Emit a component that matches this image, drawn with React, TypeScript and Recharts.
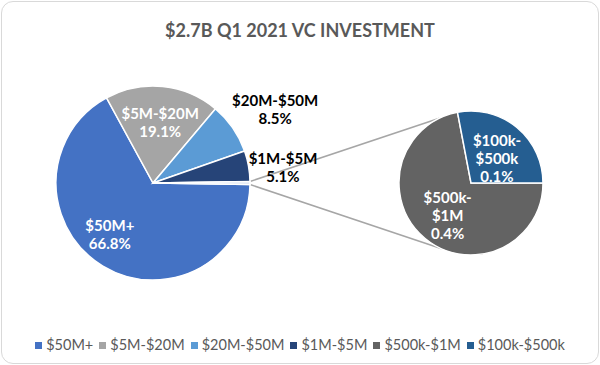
import React from 'react';
import { PieChart, Pie, Cell } from 'recharts';

const TITLE = '$2.7B Q1 2021 VC INVESTMENT';
const mainNames = ['$50M+', '$5M-$20M', '$20M-$50M', '$1M-$5M'];
const mainValues = [66.8, 19.1, 8.5, 5.1];
const mainColors = ['#4472C4', '#A5A5A5', '#5B9BD5', '#264478'];
const subNames = ['$500k-$1M', '$100k-$500k'];
const subValues = [0.36, 0.14];
const subColors = ['#636363', '#255E91'];
const OTHER_COLOR = '#DAE3F3';

const W = 600;
const H = 365;
const MAIN = { cx: 153, cy: 183, r: 97 };
const SUB = { cx: 471, cy: 183, r: 72 };
const FONT = 'Lato, "Open Sans", sans-serif';

const otherValue = subValues.reduce((a, b) => a + b, 0);
const mainData = [
  ...mainNames.map((name, i) => ({ name, value: mainValues[i], color: mainColors[i] })),
  { name: 'Other', value: otherValue, color: OTHER_COLOR },
];
const mainTotal = mainData.reduce((a, d) => a + d.value, 0);
const MAIN_START = -(otherValue / mainTotal) * 180;
const subData = subNames.map((name, i) => ({ name, value: subValues[i], color: subColors[i] }));
const SUB_START = -360 * (subValues[0] / otherValue);

// label placement: radius factor and angle shift from the slice mid angle
const mainLabelSpots = [
  { rf: 0.69, shift: -9, fill: '#FFFFFF' },
  { rf: 0.63, shift: -1, fill: '#FFFFFF' },
  { rf: 1.47, shift: -3.5, fill: '#000000' },
  { rf: 1.35, shift: -3.2, fill: '#000000' },
];
const subLabelSpots = [
  { rf: 0.55, shift: 3.5, fill: '#FFFFFF' },
  { rf: 0.5, shift: -6.5, fill: '#FFFFFF' },
];

const RAD = Math.PI / 180;
const LINE_H = 18;

function LabelText({ x, y, lines, fill }: { x: number; y: number; lines: string[]; fill: string }) {
  const top = y - ((lines.length - 1) * LINE_H) / 2;
  return (
    <text x={x} y={top} textAnchor="middle" dominantBaseline="central" fill={fill}
      fontFamily={FONT} fontWeight="bold" fontSize={15}>
      {lines.map((l, i) => (
        <tspan key={i} x={x} y={top + i * LINE_H}>{l}</tspan>
      ))}
    </text>
  );
}

const renderMainLabel = (props: any) => {
  const { cx, cy, midAngle, outerRadius, index } = props;
  const spot = mainLabelSpots[index];
  if (!spot) return null;
  const a = (midAngle + spot.shift) * RAD;
  const x = cx + outerRadius * spot.rf * Math.cos(a);
  const y = cy - outerRadius * spot.rf * Math.sin(a);
  const d = mainData[index];
  return <LabelText x={x} y={y} fill={spot.fill} lines={[d.name, d.value.toFixed(1) + '%']} />;
};

const renderSubLabel = (props: any) => {
  const { cx, cy, midAngle, outerRadius, index } = props;
  const spot = subLabelSpots[index];
  const a = (midAngle + spot.shift) * RAD;
  const x = cx + outerRadius * spot.rf * Math.cos(a);
  const y = cy - outerRadius * spot.rf * Math.sin(a);
  const d = subData[index];
  const parts = d.name.split('-');
  return <LabelText x={x} y={y} fill={spot.fill} lines={[parts[0] + '-', parts[1], d.value.toFixed(1) + '%']} />;
};

// connector lines from the "Other" slice to the secondary pie
const otherA1 = MAIN_START * RAD;
const otherA2 = -MAIN_START * RAD;
const SUB_TOP_ANGLE = 116 * RAD;
const SUB_BOT_ANGLE = -114 * RAD;
const conn = [
  [MAIN.cx + MAIN.r * Math.cos(otherA2), MAIN.cy - MAIN.r * Math.sin(otherA2),
   SUB.cx + SUB.r * Math.cos(SUB_TOP_ANGLE), SUB.cy - SUB.r * Math.sin(SUB_TOP_ANGLE)],
  [MAIN.cx + MAIN.r * Math.cos(otherA1), MAIN.cy - MAIN.r * Math.sin(otherA1),
   SUB.cx + SUB.r * Math.cos(SUB_BOT_ANGLE), SUB.cy - SUB.r * Math.sin(SUB_BOT_ANGLE)],
];

const legendItems = [
  ...mainNames.map((n, i) => ({ name: n, color: mainColors[i] })),
  ...subNames.map((n, i) => ({ name: n, color: subColors[i] })),
];

export default function App() {
  return (
    <div style={{ position: 'absolute', left: 0, top: 0, width: W, height: H, background: '#fff', fontFamily: FONT, overflow: 'hidden' }}>
      <div style={{ position: 'absolute', left: 1, top: 1, width: W - 4, height: H - 4, border: '1px solid #D9D9D9', borderRadius: 12 }} />
      <div style={{ position: 'absolute', left: 0, top: 16, width: W, textAlign: 'center', fontSize: 18, fontWeight: 'bold', color: '#595959', lineHeight: '28px' }}>
        {TITLE}
      </div>
      <svg width={W} height={H} style={{ position: 'absolute', left: 0, top: 0 }}>
        {conn.map((c, i) => (
          <line key={i} x1={c[0]} y1={c[1]} x2={c[2]} y2={c[3]} stroke="#A6A6A6" strokeWidth={1.5} />
        ))}
      </svg>
      <div style={{ position: 'absolute', left: 0, top: 0 }}>
        <PieChart width={W} height={H} margin={{ top: 0, right: 0, bottom: 0, left: 0 }}>
          <Pie data={mainData} dataKey="value" nameKey="name" cx={MAIN.cx} cy={MAIN.cy} outerRadius={MAIN.r}
            startAngle={MAIN_START} endAngle={MAIN_START - 360} stroke="#FFFFFF" strokeWidth={1.5}
            label={renderMainLabel} labelLine={false} isAnimationActive={false}>
            {mainData.map((d, i) => <Cell key={i} fill={d.color} />)}
          </Pie>
          <Pie data={subData} dataKey="value" nameKey="name" cx={SUB.cx} cy={SUB.cy} outerRadius={SUB.r}
            startAngle={SUB_START} endAngle={SUB_START + 360} stroke="#FFFFFF" strokeWidth={1.5}
            label={renderSubLabel} labelLine={false} isAnimationActive={false}>
            {subData.map((d, i) => <Cell key={i} fill={d.color} />)}
          </Pie>
        </PieChart>
      </div>
      <div style={{ position: 'absolute', left: 0, top: 334, width: W, display: 'flex', justifyContent: 'center', alignItems: 'center', fontSize: 14.5, color: '#595959', lineHeight: '22px' }}>
        {legendItems.map((it, i) => (
          <div key={i} style={{ display: 'flex', alignItems: 'center', marginLeft: i === 0 ? 0 : 6 }}>
            <span style={{ display: 'inline-block', width: 7, height: 7, background: it.color, marginRight: 4 }} />
            <span>{it.name}</span>
          </div>
        ))}
      </div>
    </div>
  );
}
